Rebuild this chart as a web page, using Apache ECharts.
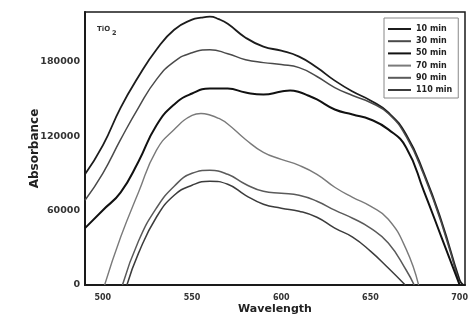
<!DOCTYPE html>
<html>
<head>
<meta charset="utf-8">
<script src="https://cdn.jsdelivr.net/npm/echarts@6/dist/echarts.min.js"></script>
<style>html,body{margin:0;padding:0;background:#fff}#c{width:471px;height:324px}</style>
</head>
<body>
<div id="c"></div>
<script>
const seriesNames = ['10 min', '30 min', '50 min', '70 min', '90 min', '110 min'];
const xTicks = [500, 550, 600, 650, 700];
const yTicks = [0, 60000, 120000, 180000];

const wl10 = [490,500,510,520,530,540,550,555,560,565,570,580,590,600,610,620,630,640,650,660,670,680,690,700,702];
const min10 = [89200,112500,143000,168000,189600,205700,213800,215400,216200,214200,210500,199300,192100,188800,184000,175200,164700,155900,148700,139000,121300,90000,50600,4000,0];
const wl30 = [490,500,510,520,530,540,550,560,570,580,590,600,610,620,630,640,650,660,670,680,690,700];
const min30 = [68300,90000,117300,143000,165500,180000,187200,189600,186400,181600,179200,177600,175200,168000,159100,152700,147100,138200,119700,88400,49000,0];
const wl50 = [490,500,510,520,530,540,550,560,570,580,590,600,605,610,615,620,630,640,650,660,670,680,690,700];
const min50 = [45800,60300,74700,99600,128600,145500,154300,158300,158300,155100,153500,155900,156700,155500,152700,149500,141400,137400,133400,125400,110900,75500,37800,0];
const wl70 = [501,510,520,530,540,550,555,560,565,570,580,590,600,610,620,630,640,650,660,670,677];
const min70 = [0,38600,74700,108500,125400,136600,138200,137000,134200,129800,117300,106900,101300,96400,89200,78800,70700,63500,53000,28900,0];
const wl90 = [511,520,530,540,550,560,570,580,590,600,610,620,630,640,650,660,670,674.5];
const min90 = [0,35400,61900,79600,90000,92400,89200,81200,75500,73900,72300,67500,60300,53800,45800,33800,12100,0];
const wl110 = [513.5,520,530,540,550,560,570,580,590,600,610,620,630,640,650,660,669.5];
const min110 = [0,25700,54600,72300,80400,83600,81200,72300,65100,61900,59500,54600,45800,38600,27300,13700,0];

function pairs(xs, ys) { return xs.map((x, i) => [x, ys[i]]); }

const curves = [
  { x: wl10, y: min10, color: '#1c1c1c', w: 1.8 },
  { x: wl30, y: min30, color: '#4a4a4a', w: 1.5 },
  { x: wl50, y: min50, color: '#111111', w: 2.0 },
  { x: wl70, y: min70, color: '#7a7a7a', w: 1.4 },
  { x: wl90, y: min90, color: '#5a5a5a', w: 1.5 },
  { x: wl110, y: min110, color: '#3c3c3c', w: 1.5 }
];

const chart = echarts.init(document.getElementById('c'), null, { renderer: 'canvas' });
const FONT = 'DejaVu Sans';
chart.setOption({
  animation: false,
  backgroundColor: '#ffffff',
  textStyle: { fontFamily: FONT },
  grid: { left: 85, right: 4, top: 12, bottom: 39, show: true, borderColor: '#1a1a1a', borderWidth: 1.5, backgroundColor: 'transparent' },
  legend: {
    orient: 'vertical', left: 384, top: 18,
    padding: [7, 6, 4, 3], itemWidth: 23, itemHeight: 8, itemGap: 4.2,
    borderColor: '#888', borderWidth: 1,
    itemStyle: { opacity: 0 },
    textStyle: { fontSize: 8, fontWeight: 'bold', color: '#222', fontFamily: FONT },
    data: seriesNames
  },
  xAxis: {
    type: 'value', min: 490, max: 703, interval: 10,
    name: 'Wavelength', nameLocation: 'middle', nameGap: 19, nameMoveOverlap: false,
    nameTextStyle: { fontSize: 11, fontWeight: 'bold', color: '#222', fontFamily: FONT },
    axisLine: { show: true, lineStyle: { color: '#1a1a1a', width: 2 } },
    axisTick: { show: false },
    splitLine: { show: false },
    axisLabel: {
      margin: 9, fontSize: 8, fontWeight: 'bold', color: '#333', fontFamily: FONT,
      formatter: v => xTicks.includes(v) ? String(v) : ''
    }
  },
  yAxis: {
    type: 'value', min: 0, max: 220000, interval: 60000,
    name: 'Absorbance', nameLocation: 'middle', nameGap: 44, nameMoveOverlap: false,
    nameTextStyle: { fontSize: 12, fontWeight: 'bold', color: '#222', fontFamily: FONT },
    axisLine: { show: true, lineStyle: { color: '#1a1a1a', width: 2 } },
    axisTick: { show: false },
    splitLine: { show: false },
    axisLabel: {
      margin: 5, fontSize: 9.5, fontWeight: 'bold', color: '#333', fontFamily: FONT,
      formatter: v => yTicks.includes(v) ? String(v) : ''
    }
  },
  graphic: [
    { type: 'text', left: 97, top: 26, style: { text: 'TiO', fontSize: 7, fontWeight: 'bold', fill: '#333', fontFamily: FONT } },
    { type: 'text', left: 112, top: 30, style: { text: '2', fontSize: 6.5, fontWeight: 'bold', fill: '#333', fontFamily: FONT } }
  ],
  series: curves.map((c, i) => ({
    name: seriesNames[i], type: 'line', smooth: 0.5, symbol: 'none',
    data: pairs(c.x, c.y),
    lineStyle: { color: c.color, width: c.w },
    itemStyle: { color: c.color },
    clip: true
  }))
});
</script>
</body>
</html>
